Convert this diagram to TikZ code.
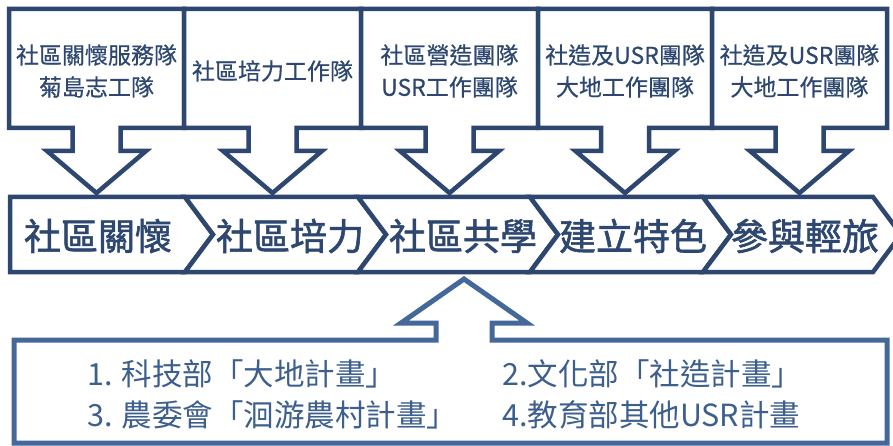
\documentclass[tikz,border=0pt]{standalone}
\usepackage{fontspec}
\setmainfont{Noto Sans CJK TC}
\newfontfamily\chevfont[FakeBold=1.6]{Noto Sans CJK TC}
\newfontfamily\topfont[FakeBold=0.5]{Noto Sans CJK TC}
\definecolor{navy}{HTML}{2D4770}
\definecolor{steel}{HTML}{44689A}
\definecolor{steeltext}{HTML}{3C5F8E}
\begin{document}
\begin{tikzpicture}[x=1pt,y=-1pt,line join=miter,
  callout/.style={draw=navy,line width=4.5pt,fill=white},
  chev/.style={draw=navy,line width=4.5pt,fill=white},
  srcbox/.style={draw=steel,line width=5pt,fill=white},
  toptext/.style={text=navy,font=\topfont\fontsize{23}{32}\selectfont,align=center,inner sep=0pt},
  chevtext/.style={text=navy,font=\chevfont\fontsize{37}{40}\selectfont,inner sep=0pt},
  srctext/.style={text=steeltext,font=\fontsize{30.5}{32}\selectfont,anchor=west,inner sep=0pt}]
\useasboundingbox (0,0) rectangle (893,446);
\fill[white] (0,0) rectangle (893,446);
% top callouts with down arrows
\foreach \l/\r in {9/184, 184/361, 361/538, 538/712, 712/887} {
  \pgfmathsetmacro\cx{(\l+\r)/2}
  \draw[callout] (\l,9) -- (\r,9) -- (\r,128) -- (\cx+24,128) -- (\cx+24,151)
     -- (\cx+49.5,151) -- (\cx,193) -- (\cx-49.5,151) -- (\cx-24,151)
     -- (\cx-24,128) -- (\l,128) -- cycle;
}
\node[toptext] (t1) at (96.5,71) {社區關懷服務隊\\菊島志工隊};
\node[toptext] (t2) at (272.5,71) {社區培力工作隊};
\node[toptext] (t3) at (449.5,71) {社區營造團隊\\USR工作團隊};
\node[toptext] (t4) at (625,71) {社造及USR團隊\\大地工作團隊};
\node[toptext] (t5) at (799.5,71) {社造及USR團隊\\大地工作團隊};
% chevron band
\draw[chev] (10,197) -- (185,197) -- (213,234.5) -- (185,272) -- (10,272) -- cycle;
\foreach \a/\b in {185/358, 358/530, 530/703, 703/873} {
  \draw[chev] (\a,197) -- (\b,197) -- (\b+28,234.5) -- (\b,272) -- (\a,272)
     -- (\a+28,234.5) -- cycle;
}
\node[chevtext] (c1) at (98,236) {社區關懷};
\node[chevtext] (c2) at (290,236) {社區培力};
\node[chevtext] (c3) at (463,236) {社區共學};
\node[chevtext] (c4) at (633,236) {建立特色};
\node[chevtext] (c5) at (805,236) {參與輕旅};
% bottom source box with up arrow
\draw[srcbox] (14,340) -- (436,340) -- (436,323) -- (401,323) -- (464,279)
   -- (527,323) -- (492,323) -- (492,340) -- (887,340) -- (887,443)
   -- (14,443) -- cycle;
\node[srctext] (s1) at (87,374) {1. 科技部「大地計畫」};
\node[srctext] (s2) at (502,374) {2.文化部「社造計畫」};
\node[srctext] (s3) at (87,415) {3. 農委會「洄游農村計畫」};
\node[srctext] (s4) at (502,415) {4.教育部其他USR計畫};
\end{tikzpicture}
\end{document}
